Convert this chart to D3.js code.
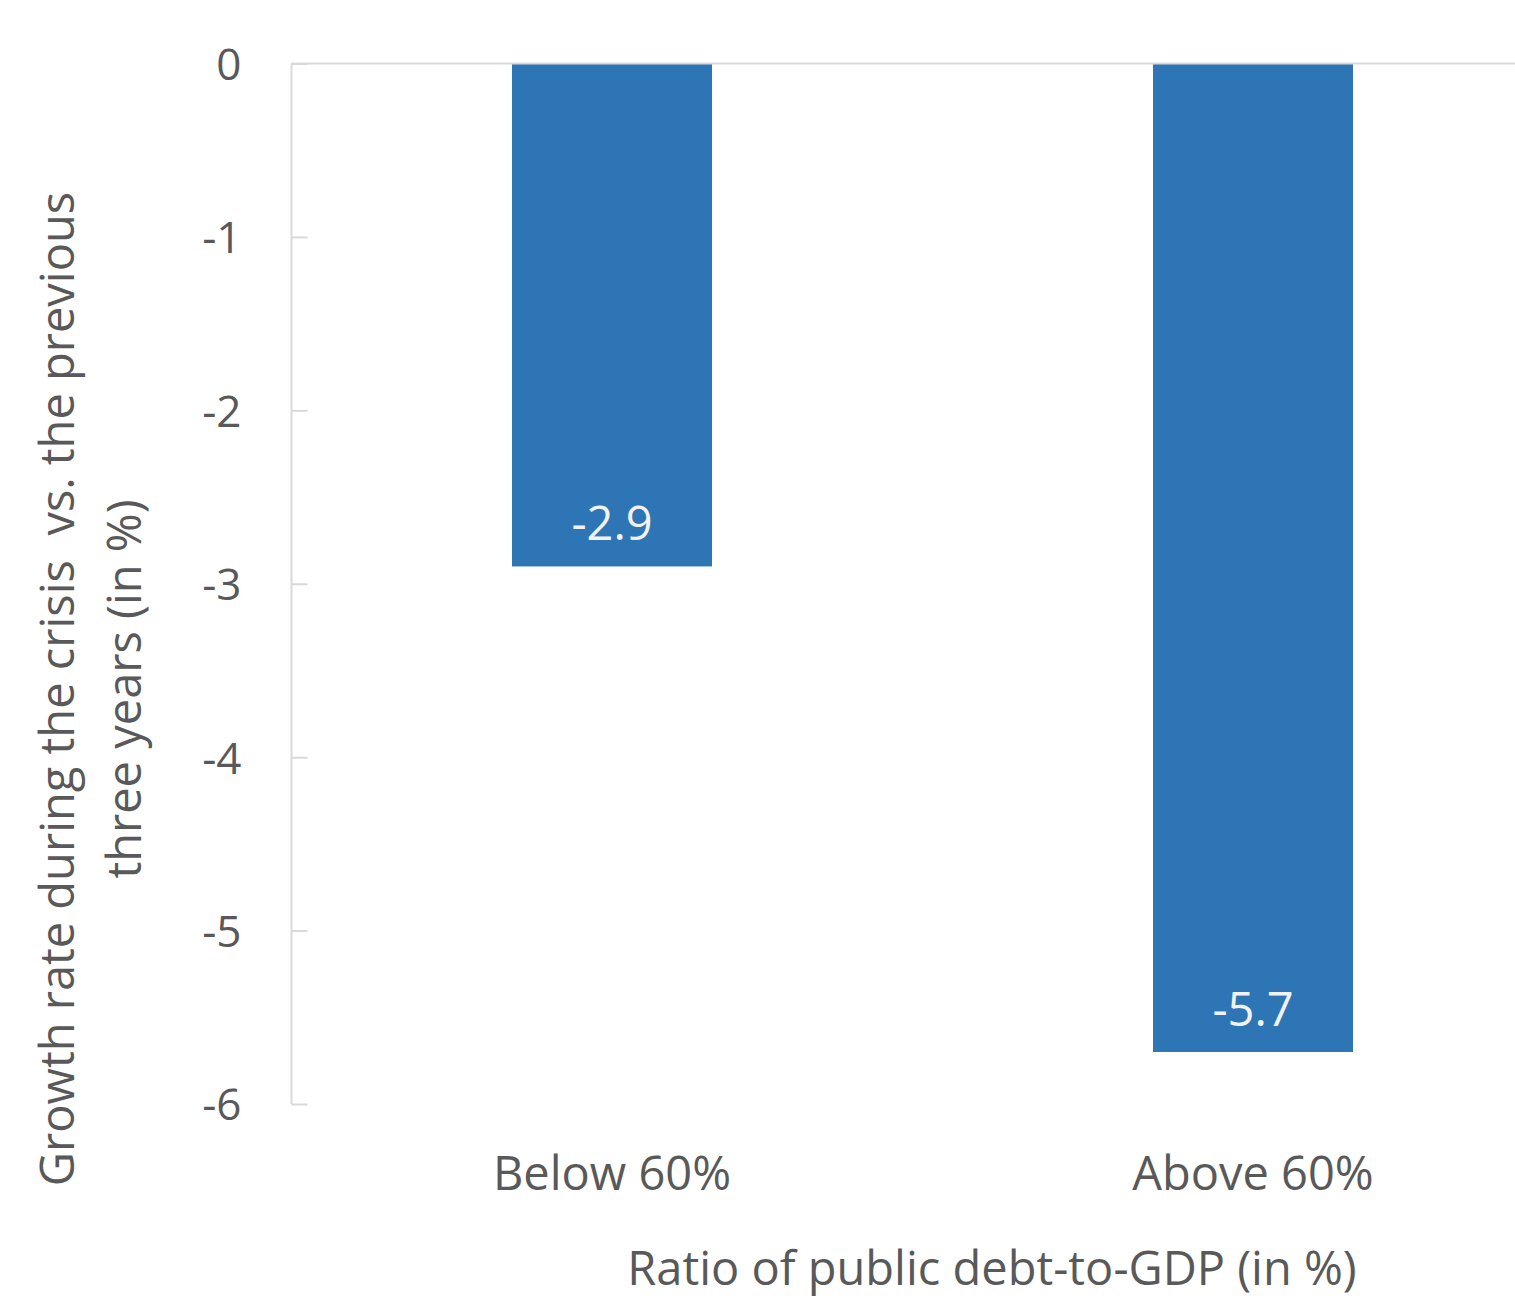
<!DOCTYPE html>
<html>
<head>
<meta charset="utf-8">
<script src="https://cdn.jsdelivr.net/npm/d3@7"></script>
<style>
  body { margin: 0; background: #fff; }
  text { font-family: "Open Sans", "Noto Sans", sans-serif; }
</style>
</head>
<body>
<div id="chart"></div>
<script>
// data
const categories = ['Below 60%', 'Above 60%'];
const values = [-2.9, -5.7];
const yTicks = [0, -1, -2, -3, -4, -5, -6];
const yTitleLines = ['Growth rate during the crisis  vs. the previous', 'three years (in %)'];
const xTitle = 'Ratio of public debt-to-GDP (in %)';

const W = 1515, H = 1303;
const margin = {top: 63.5, right: 0, bottom: 198, left: 291.5};
const barColor = '#2E75B6';
const textColor = '#595959';
const axisColor = '#D9D9D9';

const svg = d3.select('#chart').append('svg')
  .attr('width', W).attr('height', H);

const g = svg.append('g').attr('transform', `translate(${margin.left},${margin.top})`);

const y = d3.scaleLinear().domain([0, -6]).range([0, 1104 - 63.5]);
const x = d3.scaleBand().domain(categories).range([0, 1282]).paddingInner(0.688).paddingOuter(0.344);

// y axis
const yAxis = g.append('g').call(d3.axisRight(y).tickValues(yTicks).tickSize(16).tickFormat(d3.format('d')));
yAxis.select('.domain').attr('stroke', axisColor).attr('stroke-width', 2).attr('d', `M0,0V${y(-6)}`);
yAxis.selectAll('.tick line').attr('stroke', axisColor).attr('stroke-width', 2);
yAxis.selectAll('.tick text')
  .attr('x', -50).attr('dy', '0.36em')
  .attr('text-anchor', 'end')
  .attr('fill', textColor)
  .style('font-size', '44px')
  .text(d => d === 0 ? '0' : '-' + Math.abs(d));

// bars
g.selectAll('rect.bar').data(values).join('rect')
  .attr('class', 'bar')
  .attr('x', (d, i) => x(categories[i]))
  .attr('width', x.bandwidth())
  .attr('y', d => y(0))
  .attr('height', d => y(d) - y(0))
  .attr('fill', barColor);

// zero line
g.append('line')
  .attr('x1', 0).attr('x2', W - margin.left)
  .attr('y1', y(0)).attr('y2', y(0))
  .attr('stroke', axisColor).attr('stroke-width', 2);

// value labels
g.selectAll('text.val').data(values).join('text')
  .attr('class', 'val')
  .attr('x', (d, i) => x(categories[i]) + x.bandwidth() / 2)
  .attr('y', d => y(d) - 26)
  .attr('text-anchor', 'middle')
  .attr('fill', '#F2F2F2')
  .style('font-size', '47px')
  .text(d => d.toFixed(1));

// category labels
g.selectAll('text.cat').data(categories).join('text')
  .attr('class', 'cat')
  .attr('x', d => x(d) + x.bandwidth() / 2)
  .attr('y', 1190 - margin.top)
  .attr('text-anchor', 'middle')
  .attr('fill', textColor)
  .style('font-size', '47px')
  .text(d => d);

// x title
svg.append('text')
  .attr('x', 992).attr('y', 1285)
  .attr('text-anchor', 'middle')
  .attr('fill', textColor)
  .style('font-size', '47px')
  .text(xTitle);

// y title
const yt = svg.append('text')
  .attr('transform', 'translate(74,689) rotate(-90)')
  .attr('text-anchor', 'middle')
  .attr('fill', textColor)
  .style('font-size', '47px')
  .style('white-space', 'pre');
yt.selectAll('tspan').data(yTitleLines).join('tspan')
  .attr('x', 0)
  .attr('dy', (d, i) => i === 0 ? 0 : 67)
  .text(d => d);
</script>
</body>
</html>
